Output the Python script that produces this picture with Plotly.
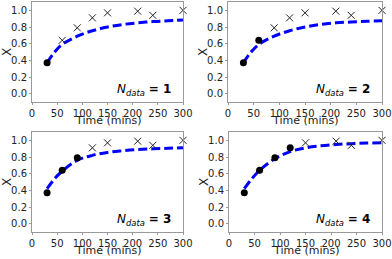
import plotly.graph_objects as go

time_pts = [30, 60, 90, 120, 150, 210, 240, 300]
conv_pts = [0.37, 0.64, 0.79, 0.91, 0.97, 0.99, 0.94, 1.00]

curve_t = [30, 45, 60, 90, 120, 150, 180, 210, 240, 270, 300]
curve_1 = [0.37, 0.50, 0.59, 0.69, 0.755, 0.80, 0.83, 0.85, 0.865, 0.875, 0.885]
curve_2 = [0.37, 0.50, 0.59, 0.69, 0.755, 0.80, 0.83, 0.85, 0.86, 0.868, 0.875]
curve_3 = [0.42, 0.54, 0.63, 0.76, 0.82, 0.855, 0.875, 0.89, 0.898, 0.905, 0.91]
curve_4 = [0.42, 0.54, 0.64, 0.78, 0.865, 0.91, 0.935, 0.95, 0.96, 0.967, 0.972]
curves = [curve_1, curve_2, curve_3, curve_4]
n_data = [1, 2, 3, 4]

x_ticks = [0, 50, 100, 150, 200, 250, 300]
y_ticks = [0.0, 0.2, 0.4, 0.6, 0.8, 1.0]
y_tick_text = ["0.0", "0.2", "0.4", "0.6", "0.8", "1.0"]

W, H = 392, 259
# panel pixel boxes (left, right, top, bottom)
boxes = [(32, 183, 2, 102), (228, 382, 2, 102), (32, 183, 132, 232), (229, 382, 132, 232)]

fig = go.Figure()
layout = dict(
    width=W, height=H, margin=dict(l=0, r=0, t=0, b=0, autoexpand=False),
    paper_bgcolor="white", plot_bgcolor="white", showlegend=False,
    font=dict(family="DejaVu Sans", size=10, color="#222"),
)
annotations = []
for i in range(4):
    l, r, t, b = boxes[i]
    xa = "xaxis" if i == 0 else f"xaxis{i+1}"
    ya = "yaxis" if i == 0 else f"yaxis{i+1}"
    xr = "x" if i == 0 else f"x{i+1}"
    yr = "y" if i == 0 else f"y{i+1}"
    layout[xa] = dict(
        domain=[l / W, r / W], range=[0, 300], anchor=yr, automargin=False,
        tickvals=x_ticks, showgrid=False, zeroline=False,
        showline=True, linecolor="#999", linewidth=1, mirror=True,
        ticks="outside", ticklen=2, tickcolor="#999",
        tickfont=dict(size=10),
    )
    layout[ya] = dict(
        domain=[(H - b) / H, (H - t) / H], range=[-0.1, 1.1], anchor=xr, automargin=False,
        tickvals=y_ticks, ticktext=y_tick_text, showgrid=False, zeroline=False,
        showline=True, linecolor="#999", linewidth=1, mirror=True,
        ticks="outside", ticklen=2, tickcolor="#999",
        tickfont=dict(size=10),
    )
    # axis titles as paper annotations
    annotations.append(dict(
        x=(l + r) / 2 / W, y=(H - (b + 27)) / H, xref="paper", yref="paper",
        xanchor="center", yanchor="bottom", text="Time (mins)", showarrow=False,
        font=dict(size=11, color="#222"),
    ))
    annotations.append(dict(
        x=(l - 25) / W, y=(H - (t + b) / 2) / H, xref="paper", yref="paper",
        xanchor="center", yanchor="middle", text="X", showarrow=False, textangle=-90,
        font=dict(size=12, color="#222"),
    ))
    n = n_data[i]
    fig.add_trace(go.Scatter(
        x=curve_t, y=curves[i], mode="lines", xaxis=xr, yaxis=yr,
        line=dict(color="#0000ff", width=3, dash="9px,4px", shape="spline"),
    ))
    fig.add_trace(go.Scatter(
        x=time_pts[:n], y=conv_pts[:n], mode="markers", xaxis=xr, yaxis=yr,
        marker=dict(color="black", size=7, symbol="circle"),
    ))
    fig.add_trace(go.Scatter(
        x=time_pts[n:], y=conv_pts[n:], mode="markers", xaxis=xr, yaxis=yr,
        marker=dict(color="rgba(0,0,0,0)", size=7, symbol="x-thin",
                    line=dict(color="#222", width=1)),
        cliponaxis=False,
    ))
    annotations.append(dict(
        x=280, y=0.04, xref=xr, yref=yr, xanchor="right", yanchor="middle",
        text=f"<i>N<sub>data</sub></i> <b>= {n}</b>", showarrow=False,
        font=dict(size=12, color="black"),
    ))
layout["annotations"] = annotations
fig.update_layout(**layout)
fig.write_html("out.html", config={"displayModeBar": False},
               post_script="document.body.style.margin='0';document.body.style.overflow='hidden';")
